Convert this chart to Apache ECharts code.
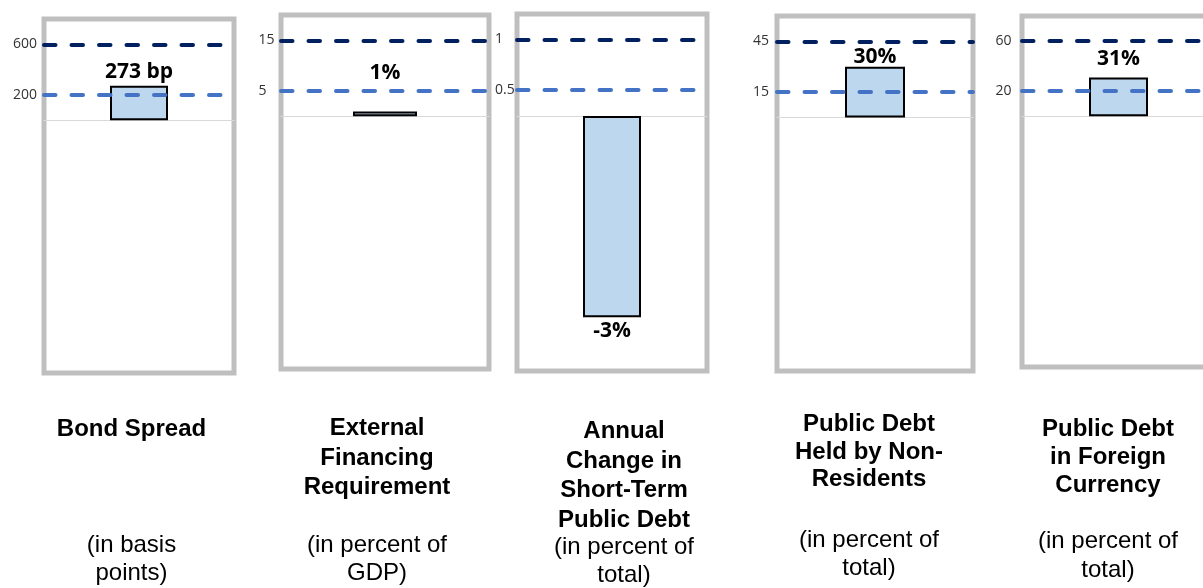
<!DOCTYPE html>
<html>
<head>
<meta charset="utf-8">
<script src="https://cdn.jsdelivr.net/npm/echarts@6/dist/echarts.min.js"></script>
<style>
  html, body { margin: 0; padding: 0; background: #fff; }
  #main { width: 1203px; height: 588px; }
</style>
</head>
<body>
<div id="main"></div>
<script>
// data
var panelNames = [
  "Bond Spread",
  "External\nFinancing\nRequirement",
  "Annual\nChange in\nShort-Term\nPublic Debt",
  "Public Debt\nHeld by Non-\nResidents",
  "Public Debt\nin Foreign\nCurrency"
];
var panelUnits = [
  "(in basis\npoints)",
  "(in percent of\nGDP)",
  "(in percent of\ntotal)",
  "(in percent of\ntotal)",
  "(in percent of\ntotal)"
];
var values = [273, 0.9, -3, 30, 31];
var upperThresholds = [600, 15, 1, 45, 60];
var lowerThresholds = [200, 5, 0.5, 15, 20];
var valueSuffix = [" bp", "%", "%", "%", "%"];

// layout of each small panel (pixels / axis ranges)
var panels = [
  { left: 44, top: 19, width: 190, height: 354, barMin: -2000, barMax: 800, lineMin: -2000, lineMax: 800,
    barWidth: 58, labelPos: "top", labelDist: 3, tickMargin: 31,
    textX: 131.5, titleTop: 415, titleLH: 29, unitTop: 531, unitLH: 28.5 },
  { left: 281, top: 15, width: 208, height: 354, barMin: -50, barMax: 20, lineMin: -50, lineMax: 20,
    barWidth: 64, labelPos: "top", labelDist: 28, tickMargin: 22.5,
    textX: 377, titleTop: 414, titleLH: 29.5, unitTop: 531, unitLH: 28.5 },
  { left: 517, top: 14, width: 190, height: 357, barMin: -3.8, barMax: 1.52, lineMin: -2.27, lineMax: 1.25,
    barWidth: 58, labelPos: "bottom", labelDist: 3, tickMargin: 22,
    textX: 624, titleTop: 417, titleLH: 29.5, unitTop: 533, unitLH: 28 },
  { left: 777, top: 16, width: 196, height: 355, barMin: -150, barMax: 60, lineMin: -150, lineMax: 60,
    barWidth: 60, labelPos: "top", labelDist: -1, tickMargin: 24,
    textX: 869, titleTop: 411, titleLH: 27.5, unitTop: 526, unitLH: 28 },
  // last box runs past the right edge of the picture
  { left: 1022, top: 16, width: 193, height: 351, barMin: -200, barMax: 80, lineMin: -200, lineMax: 80,
    barWidth: 59, labelPos: "top", labelDist: 8, tickMargin: 26.5,
    textX: 1108, titleTop: 415, titleLH: 28, unitTop: 527, unitLH: 29 }
];

var grids = [], xAxes = [], yAxes = [], series = [], graphics = [];
var dashType = [11.5, 16];

panels.forEach(function (p, i) {
  grids.push({
    left: p.left, top: p.top, width: p.width, height: p.height,
    outerBoundsMode: "none",
    show: true, borderColor: "#bfbfbf", borderWidth: 5, backgroundColor: "transparent"
  });
  xAxes.push({
    type: "category", gridIndex: i, data: [""],
    axisLine: { onZero: true, onZeroAxisIndex: 2 * i, lineStyle: { color: "#d9d9d9", width: 1 } },
    axisTick: { show: false }, axisLabel: { show: false }, splitLine: { show: false }
  });
  // hidden axis that carries the bar
  yAxes.push({ type: "value", gridIndex: i, position: "right", min: p.barMin, max: p.barMax, show: false });
  // axis for the threshold lines and their labels
  yAxes.push({
    type: "value", gridIndex: i, position: "left", min: p.lineMin, max: p.lineMax,
    axisLine: { show: false }, axisTick: { show: false }, splitLine: { show: false },
    axisLabel: {
      customValues: [lowerThresholds[i], upperThresholds[i]],
      align: "left", margin: p.tickMargin,
      color: "#333", fontSize: 14, fontFamily: "Open Sans"
    }
  });
  series.push({
    type: "bar", xAxisIndex: i, yAxisIndex: 2 * i,
    data: [values[i]], barWidth: p.barWidth,
    itemStyle: { color: "#bdd7ee", borderColor: "#000", borderWidth: 2 },
    label: {
      show: true, position: p.labelPos, distance: p.labelDist,
      fontFamily: "Open Sans", fontWeight: "bold", fontSize: 21, color: "#000",
      formatter: (function (k) {
        return function (d) { return (k === 0 ? d.value : Math.round(d.value)) + valueSuffix[k]; };
      })(i)
    }
  });
  series.push({
    type: "line", xAxisIndex: i, yAxisIndex: 2 * i + 1, data: [],
    markLine: {
      silent: true, symbol: ["none", "none"], label: { show: false },
      data: [
        { yAxis: upperThresholds[i], lineStyle: { color: "#002060", width: 4, type: dashType, cap: "round" } },
        { yAxis: lowerThresholds[i], lineStyle: { color: "#4472c4", width: 4, type: dashType, cap: "round" } }
      ]
    }
  });
  graphics.push({
    type: "text", x: p.textX, y: p.titleTop,
    style: { text: panelNames[i], font: 'bold 24px "Liberation Sans", Arial', fill: "#000",
      align: "center", verticalAlign: "top", lineHeight: p.titleLH }
  });
  graphics.push({
    type: "text", x: p.textX, y: p.unitTop,
    style: { text: panelUnits[i], font: '24px "Liberation Sans", Arial', fill: "#000",
      align: "center", verticalAlign: "top", lineHeight: p.unitLH }
  });
});

var myChart = echarts.init(document.getElementById("main"));
myChart.setOption({
  animation: false,
  grid: grids,
  xAxis: xAxes,
  yAxis: yAxes,
  series: series,
  graphic: graphics
});
</script>
</body>
</html>
